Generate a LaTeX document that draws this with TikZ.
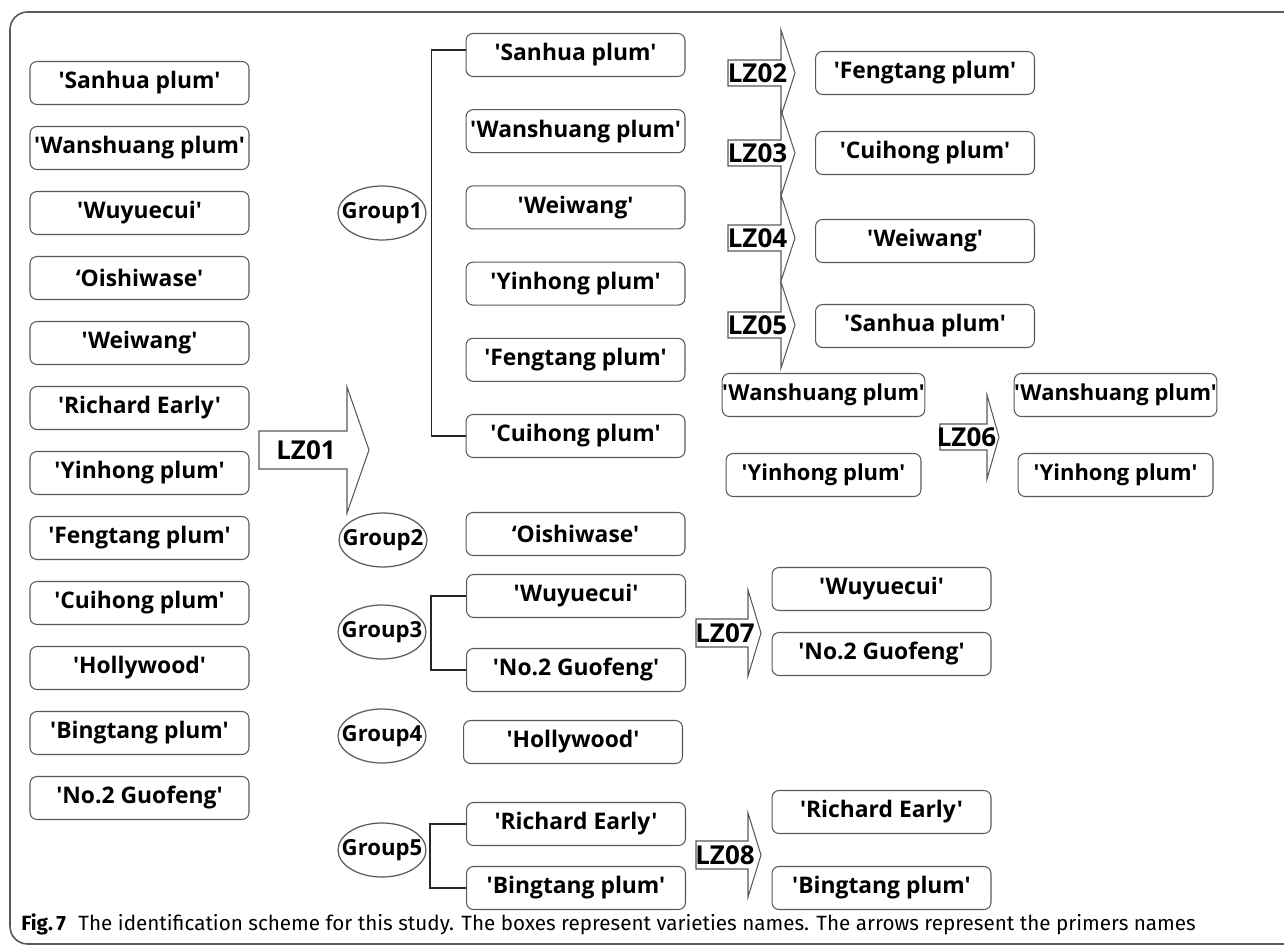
\documentclass[tikz,border=0pt]{standalone}
\usepackage{fontspec}
\newfontfamily\boxfont{Open Sans}
\newfontfamily\capfont{Fira Sans}
\newcommand\blockarrow[8]{% name, x0, x1, x2, yc, shaft half, head half, text
  \draw[blk] (#2,#5-#6) -- (#3,#5-#6) -- (#3,#5-#7) -- (#4,#5) -- (#3,#5+#7) -- (#3,#5+#6) -- (#2,#5+#6) -- cycle;
  \node[lz] (#1) at ({(#2+#3)/2+3},#5) {#8};}
\begin{document}
\begin{tikzpicture}[x=0.02cm,y=-0.02cm,
  vbox/.style={draw=black!65, line width=0.6pt, rounded corners=4pt, minimum height=0.86cm, inner sep=0pt, font=\boxfont\fontsize{13}{14}\selectfont\bfseries},
  lbox/.style={vbox, minimum width=4.38cm},
  sbox/.style={vbox, minimum width=3.9cm, font=\boxfont\fontsize{12.5}{14}\selectfont\bfseries},
  gtext/.style={inner sep=0pt, font=\boxfont\fontsize{12.6}{14}\selectfont\bfseries},
  gline/.style={draw=black!65, line width=0.7pt},
  brk/.style={line width=1pt, black!85},
  blk/.style={draw=black!65, line width=0.6pt, fill=white},
  lz/.style={font=\boxfont\fontsize{14.8}{16}\selectfont\bfseries, inner sep=0pt}
]
\useasboundingbox (0,0) rectangle (1284,952);
% frame
\draw[black!65, line width=0.9pt, rounded corners=10pt] (10,12) rectangle (1310,944);

% left column
\foreach \t [count=\i] in {'Sanhua plum','Wanshuang plum','Wuyuecui',{‘Oishiwase'},'Weiwang','Richard Early','Yinhong plum','Fengtang plum','Cuihong plum','Hollywood','Bingtang plum','No.2 Guofeng'}
  \node[lbox] (l\i) at (139.5,{83+65*(\i-1)}) {\t};

% LZ01
\blockarrow{lz1}{259}{347}{369}{450}{19}{63}{LZ01}

% groups
\node[gtext] (g1) at (382,213) {Group1};
\node[gtext] (g2) at (383,540) {Group2};
\node[gtext] (g3) at (382,632) {Group3};
\node[gtext] (g4) at (382,736) {Group4};
\node[gtext] (g5) at (382,850) {Group5};
\foreach \g in {g1,g2,g3,g4,g5}
  \draw[gline] (\g.center) ellipse [x radius=0.88cm, y radius=0.54cm];

% group1 boxes
\foreach \t [count=\i] in {'Sanhua plum','Wanshuang plum','Weiwang','Yinhong plum','Fengtang plum','Cuihong plum'}
  \node[lbox] (m\i) at (575.5,{55+76.2*(\i-1)}) {\t};
\node[lbox] (m7) at (575.5,534) {‘Oishiwase'};
\node[lbox] (m8) at (576,596) {'Wuyuecui'};
\node[lbox] (m9) at (576,670) {'No.2 Guofeng'};
\node[lbox] (m10) at (573,742) {'Hollywood'};
\node[lbox] (m11) at (576,824) {'Richard Early'};
\node[lbox] (m12) at (576,888) {'Bingtang plum'};

% brackets
\draw[brk] ([yshift=0.1cm]m1.west) -- ++(-34,0) |- (m6.west);
\draw[brk] (m8.west) -- ++(-35,0) |- (m9.west);
\draw[brk] (m11.west) -- ++(-36,0) |- (m12.west);

% LZ02-05
\blockarrow{lz2}{728}{781}{795}{73}{13}{43}{LZ02}
\blockarrow{lz3}{728}{781}{795}{153}{13}{43}{LZ03}
\blockarrow{lz4}{728}{781}{795}{238}{13}{43}{LZ04}
\blockarrow{lz5}{728}{781}{795}{325}{13}{43}{LZ05}
\node[lbox] (r1) at (925,73) {'Fengtang plum'};
\node[lbox] (r2) at (925,153) {'Cuihong plum'};
\node[lbox] (r3) at (925,241) {'Weiwang'};
\node[lbox] (r4) at (925,326) {'Sanhua plum'};

% LZ06
\node[sbox] (s1) at (823.5,395) {'Wanshuang plum'};
\node[sbox] (s2) at (823.5,475) {'Yinhong plum'};
\blockarrow{lz6}{940}{987}{999}{437}{13}{42}{LZ06}
\node[sbox] (s3) at (1115.5,395) {'Wanshuang plum'};
\node[sbox] (s4) at (1115.5,475) {'Yinhong plum'};

% LZ07
\blockarrow{lz7}{696}{748}{761}{633}{14}{43}{LZ07}
\node[lbox] (r5) at (881.5,589) {'Wuyuecui'};
\node[lbox] (r6) at (881.5,654) {'No.2 Guofeng'};

% LZ08
\blockarrow{lz8}{696}{748}{761}{855}{14}{42}{LZ08}
\node[lbox] (r7) at (881.5,812) {'Richard Early'};
\node[lbox] (r8) at (881.5,888) {'Bingtang plum'};

% caption
\node[anchor=west, inner sep=0pt, font=\capfont\fontsize{11.75}{14}\selectfont] (cap) at (21,924)
  {\textbf{Fig.\,7}\hspace{0.6em}The identification scheme for this study. The boxes represent varieties names. The arrows represent the primers names};
\end{tikzpicture}
\end{document}
